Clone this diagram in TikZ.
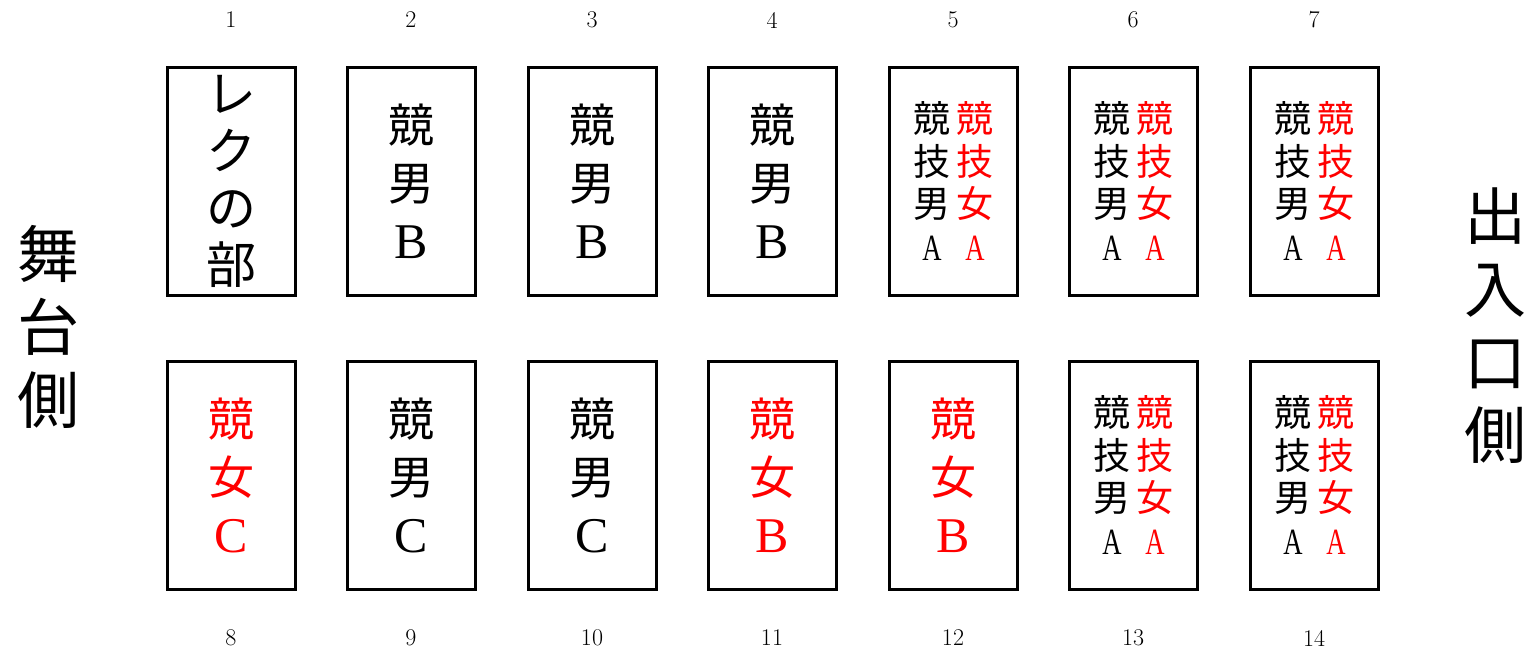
\documentclass[tikz,border=0pt]{standalone}
\usepackage{fontspec}
\newfontfamily\jp{Noto Sans CJK JP}
\newfontfamily\lat{Liberation Serif}
\newcommand{\nA}{{\lat\scalebox{0.72}[1]{A}}}
\begin{document}
\begin{tikzpicture}[x=1pt,y=-1pt,
  seat/.style={draw,line width=3pt,minimum width=128pt,minimum height=228pt,inner sep=0pt},
  big/.style={align=center,inner sep=0pt,font=\jp\fontsize{46}{58}\selectfont},
  small/.style={align=center,inner sep=0pt,font=\jp\fontsize{37}{42.5}\selectfont},
  side/.style={align=center,inner sep=0pt,font=\jp\fontsize{62}{73}\selectfont},
  num/.style={inner sep=0pt,font=\fontsize{24}{28}\selectfont},
  red/.style={text=red}]
\useasboundingbox (0,0) rectangle (1533,657);
% boxes
\foreach \i/\x in {1/231,2/411,3/592,4/772,5/953,6/1133,7/1314}{
  \node[seat] (b\i) at (\x,181) {};
  \node[num] (n\i) at (\x,20) {\i};
}
\foreach \i/\x in {8/231,9/411,10/592,11/772,12/953,13/1133,14/1314}{
  \node[seat] (b\i) at (\x,475) {};
  \node[num] (n\i) at (\x,638) {\i};
}
% top row texts
\node[big,font=\jp\fontsize{50}{57}\selectfont] (t1) at (b1.center) {レ\\ク\\の\\部};
\node[big] (t2) at (b2.center) {競\\男\\{\lat\fontsize{50}{58}\selectfont B}};
\node[big] (t3) at (b3.center) {競\\男\\{\lat\fontsize{50}{58}\selectfont B}};
\node[big] (t4) at (b4.center) {競\\男\\{\lat\fontsize{50}{58}\selectfont B}};
\foreach \i in {5,6,7,13,14}{
  \node[small] (l\i) at ([xshift=-21pt]b\i.center) {競\\技\\男\\\nA};
  \node[small,red] (r\i) at ([xshift=22pt]b\i.center) {競\\技\\女\\\nA};
}
% bottom row texts
\node[big,red] (t8) at (b8.center) {競\\女\\{\lat\fontsize{50}{58}\selectfont C}};
\node[big] (t9) at (b9.center) {競\\男\\{\lat\fontsize{50}{58}\selectfont C}};
\node[big] (t10) at (b10.center) {競\\男\\{\lat\fontsize{50}{58}\selectfont C}};
\node[big,red] (t11) at (b11.center) {競\\女\\{\lat\fontsize{50}{58}\selectfont B}};
\node[big,red] (t12) at (b12.center) {競\\女\\{\lat\fontsize{50}{58}\selectfont B}};
% side labels
\node[side] (stage) at (48,327) {舞\\台\\側};
\node[side] (exit) at (1495,326) {出\\入\\口\\側};
\end{tikzpicture}
\end{document}
